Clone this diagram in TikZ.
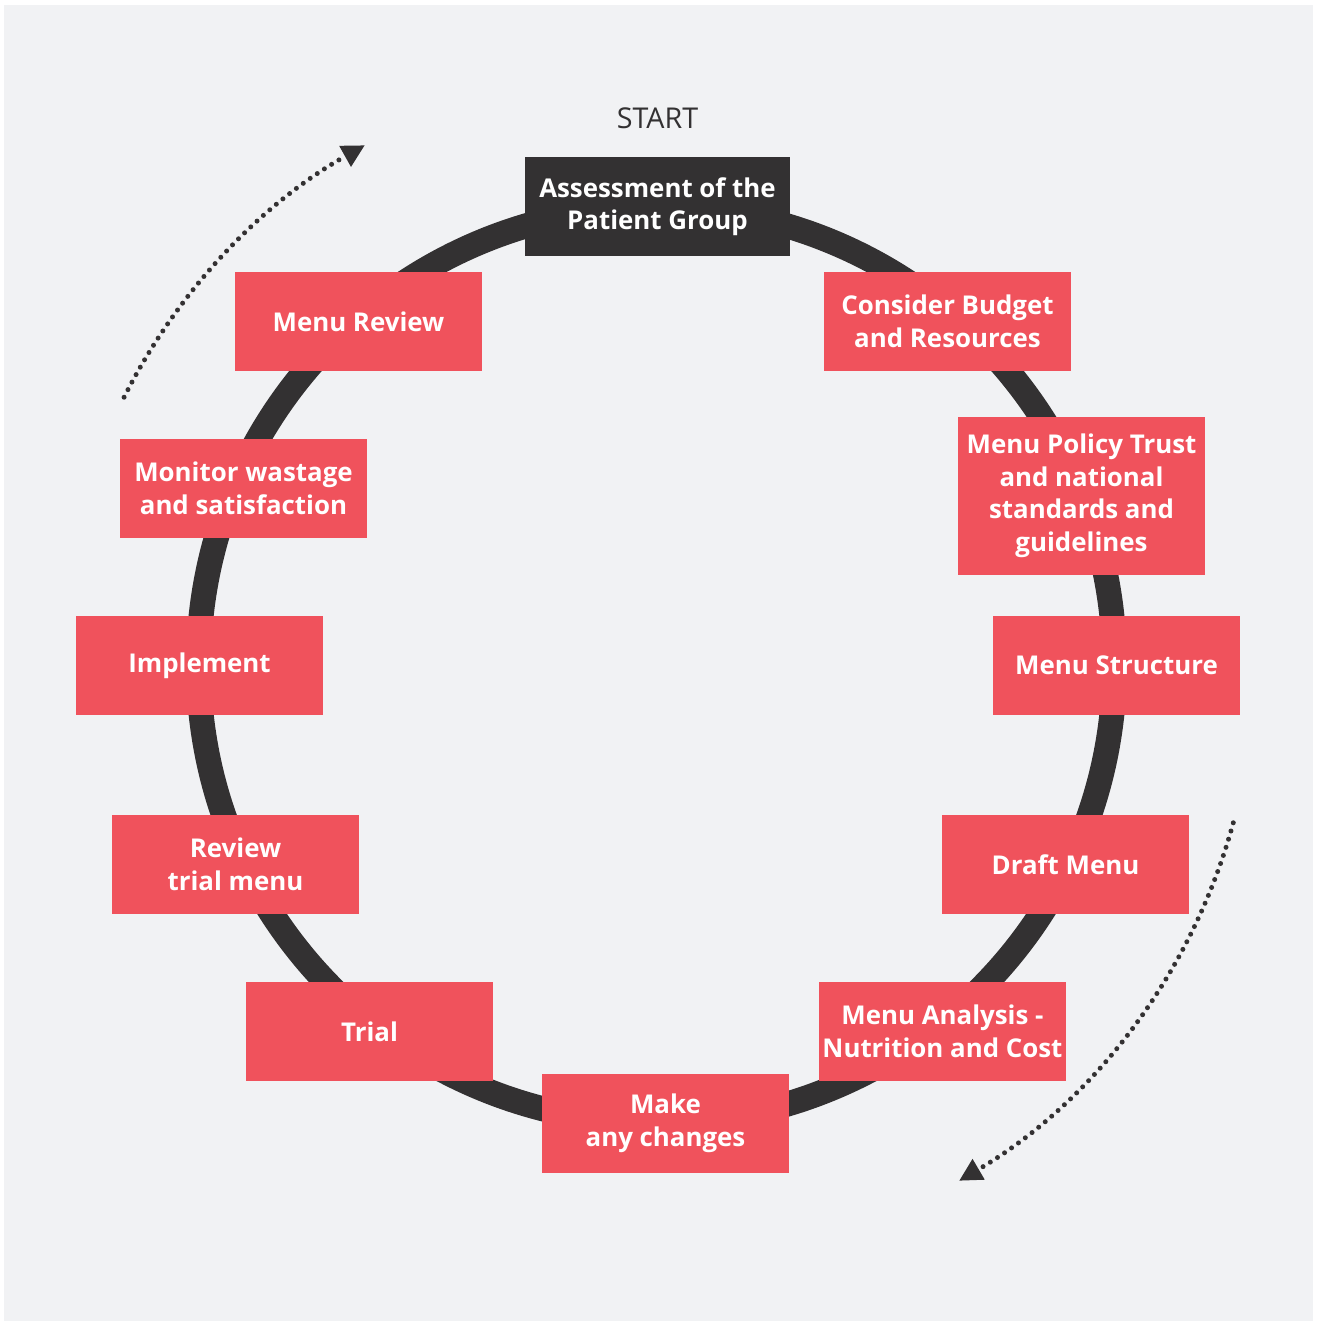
\documentclass[tikz,border=0pt]{standalone}
\usepackage{fontspec}
\setmainfont{Open Sans}
\usetikzlibrary{arrows.meta,calc}

\definecolor{ringgray}{HTML}{333132}
\definecolor{stepred}{HTML}{F0525C}
\definecolor{pagegray}{HTML}{F1F2F4}

\tikzset{
  stepbox/.style={fill=stepred,text=white,align=center,inner sep=0pt,
    font=\bfseries\fontsize{19.4}{24.4}\selectfont,
    minimum width=185.25pt,minimum height=74.25pt},
  flowarrow/.style={ringgray,line width=3.75pt,line cap=round,
    dash pattern=on 0pt off 6.4pt,-{Triangle[length=17pt,width=17pt]}}
}

\begin{document}
\begin{tikzpicture}[x=0.75pt,y=-0.75pt]
%page
\useasboundingbox[fill=white] (0,0) rectangle (1317,1321);
\fill[pagegray] (4,5) rectangle (1313,1321);

%ring
\coordinate (c) at (656.5,665);
\draw[ringgray,line width=18.75pt] (c) circle[radius=458];

%steps
\node[font=\fontsize{21.5}{26}\selectfont,text=ringgray] (start) at (657.5,118) {START};
\node[stepbox,fill=ringgray,minimum width=198.75pt] (assess) at (657.5,206.5) {Assessment of the\\Patient Group};
\node[stepbox] (budget) at (947.5,321.5) {Consider Budget\\and Resources};
\node[stepbox,minimum height=118.5pt] (policy) at (1081.5,496) {Menu Policy Trust\\and national\\standards and\\guidelines};
\node[stepbox] (structure) at (1116.5,665.5) {Menu Structure};
\node[stepbox] (draft) at (1065.5,864.5) {Draft Menu};
\node[stepbox] (analysis) at (942.5,1031.5) {Menu Analysis -\\Nutrition and Cost};
\node[stepbox] (changes) at (665.5,1123.5) {Make\\any changes};
\node[stepbox] (trial) at (369.5,1031.5) {Trial};
\node[stepbox] (reviewtrial) at (235.5,864.5) {Review\\trial menu};
\node[stepbox] (implement) at (199.5,665.5) {Implement};
\node[stepbox] (monitor) at (243.5,488.5) {Monitor wastage\\and satisfaction};
\node[stepbox] (review) at (358.5,321.5) {Menu Review};

%direction
\draw[flowarrow] ($(c)+(-153.3:596)$) arc[start angle=-153.3,end angle=-119.3,radius=596];
\draw[flowarrow] ($(c)+(15.3:598)$) arc[start angle=15.3,end angle=59.6,radius=598];
\end{tikzpicture}
\end{document}
